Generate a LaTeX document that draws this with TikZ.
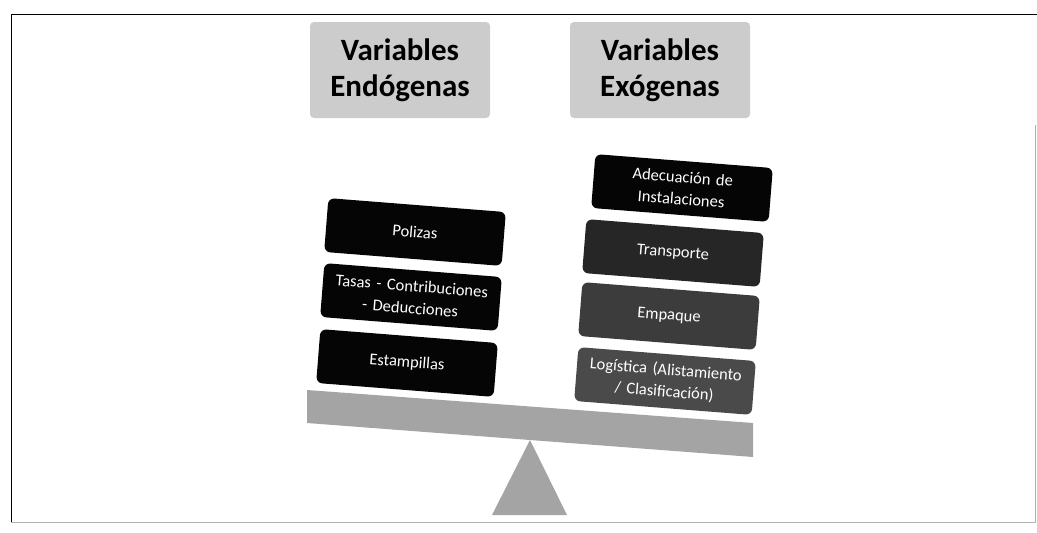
\documentclass[tikz,border=0pt]{standalone}
\usepackage{fontspec}
\setmainfont{Carlito}
\definecolor{beamgray}{HTML}{A4A4A4}
\definecolor{boxA}{HTML}{050505}
\definecolor{boxB}{HTML}{262626}
\definecolor{boxC}{HTML}{3C3C3C}
\definecolor{boxD}{HTML}{4A4A4A}
\begin{document}
\begin{tikzpicture}[x=1pt,y=-1pt,
  blockbox/.style={rounded corners=6pt, minimum width=178pt, minimum height=54pt,
    text width=176pt, align=center, text=white, inner sep=1pt,
    font=\fontsize{16.5}{22}\selectfont, rotate=-4.5},
  hdr/.style={rounded corners=4pt, fill=gray!40, minimum width=180pt, minimum height=96pt,
    text width=176pt, align=center, inner sep=2pt,
    font=\fontsize{31}{36}\selectfont\bfseries}]
\useasboundingbox (0,0) rectangle (1037,533);
% frame
\draw[line width=1pt] (11,522) -- (11,14) -- (1037,14);
\draw[gray!60, line width=1pt] (11,522) -- (1035,522) -- (1035,125);
% header boxes
\node[hdr] (endo) at (400,70) {Variables\\Endógenas};
\node[hdr] (exo) at (660,70) {Variables\\Exógenas};
% beam and fulcrum
\fill[beamgray] (307,390) -- (753,423) -- (753,457) -- (307,423) -- cycle;
\fill[beamgray] (530,440) -- (567,515) -- (492,515) -- cycle;
% left stack
\node[blockbox, fill=boxA] (pol) at (415,232) {Polizas};
\node[blockbox, fill=boxA] (tas) at (411,297) {Tasas - Contribuciones\\- Deducciones};
\node[blockbox, fill=boxA] (est) at (407,363) {Estampillas};
% right stack
\node[blockbox, fill=boxA] (ade) at (682,188) {Adecuación de\\Instalaciones};
\node[blockbox, fill=boxB] (tra) at (673,253) {Transporte};
\node[blockbox, fill=boxC] (emp) at (669,316) {Empaque};
\node[blockbox, fill=boxD] (log) at (665,381) {Logística (Alistamiento\\/ Clasificación)};
\end{tikzpicture}
\end{document}
